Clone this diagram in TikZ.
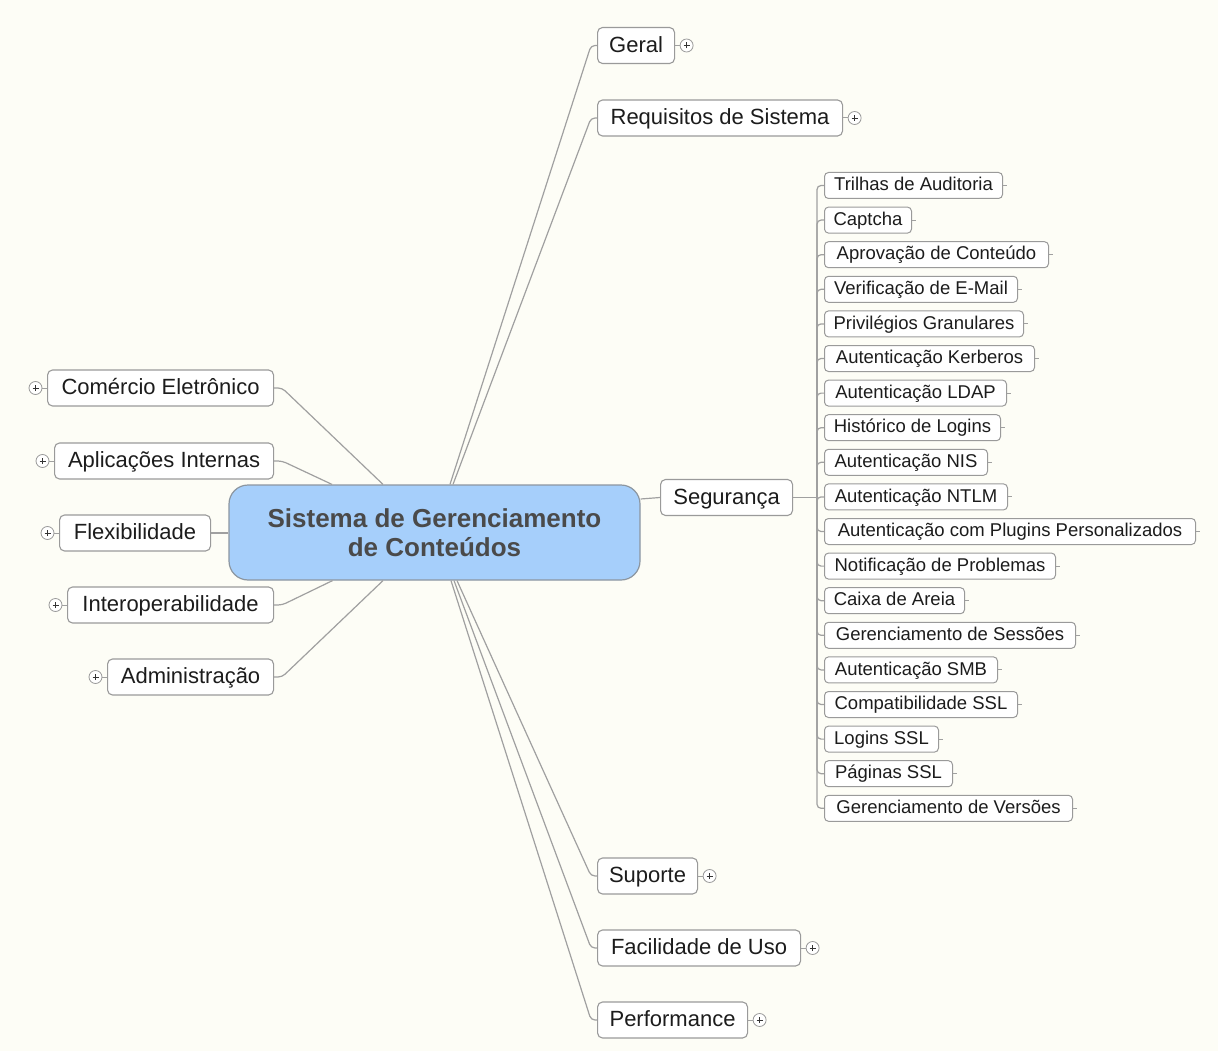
\documentclass[tikz,border=0pt]{standalone}
\usepackage{fontspec}
\setmainfont{Liberation Sans}
\usetikzlibrary{calc}
\definecolor{bg}{HTML}{FDFDF6}
\definecolor{ln}{HTML}{A0A0A0}
\definecolor{bd}{HTML}{9A9A9A}
\definecolor{cfill}{HTML}{A6CFFB}
\definecolor{cbd}{HTML}{8C96A0}
\definecolor{ctext}{HTML}{4A4A4A}
\definecolor{tx}{HTML}{1C1C1C}
\begin{document}
\begin{tikzpicture}[x=1pt,y=-1pt,
  topic/.style={draw=bd, line width=1.1pt, fill=white, rounded corners=5pt,
    minimum height=36pt, inner xsep=10pt, inner ysep=0pt, anchor=west,
    text height=15.8pt, text depth=2pt,
    font=\fontsize{22}{26}\selectfont, text=tx},
  sub/.style={draw=bd, line width=1pt, fill=white, rounded corners=4pt,
    minimum height=26pt, inner xsep=8pt, inner ysep=0pt, anchor=west,
    text height=13.2pt, text depth=3pt,
    font=\fontsize{18.5}{22}\selectfont, text=tx},
  central/.style={draw=cbd, line width=1.2pt, fill=cfill, rounded corners=19pt,
    minimum width=411pt, minimum height=95pt, align=center, text=ctext,
    font=\fontsize{26}{29}\selectfont\bfseries},
  conn/.style={draw=ln, line width=1.2pt, rounded corners=4pt},
  plus/.style={circle, draw=bd, line width=0.8pt, fill=white, minimum size=13pt,
    inner sep=0pt, path picture={
      \draw[line width=0.9pt, draw=black!80]
        ([xshift=-3pt]path picture bounding box.center) -- ([xshift=3pt]path picture bounding box.center)
        ([yshift=-3pt]path picture bounding box.center) -- ([yshift=3pt]path picture bounding box.center);}}
]
\fill[bg] (0,0) rectangle (1218,1051);
\useasboundingbox (0,0) rectangle (1218,1051);

% central topic
\node[central] (c) at (434.5,532.5) {Sistema de Gerenciamento\\de Conteúdos};

% right main topics
\node[topic, minimum width=77pt]  (geral) at (597,45.5) {Geral};
\node[topic, minimum width=245pt] (req)   at (597,118) {Requisitos de Sistema};
\node[topic, minimum width=132pt] (seg)   at (660,497.5) {Segurança};
\node[topic, minimum width=100pt] (sup)   at (597,876) {Suporte};
\node[topic, minimum width=203pt] (fac)   at (597,948) {Facilidade de Uso};
\node[topic, minimum width=150pt] (perf)  at (597,1020) {Performance};

% left main topics
\node[topic, minimum width=226pt] (com)   at (47,388) {Comércio Eletrônico};
\node[topic, minimum width=219pt] (apl)   at (54,461) {Aplicações Internas};
\node[topic, minimum width=151pt] (flex)  at (59,533) {Flexibilidade};
\node[topic, minimum width=206pt] (inter) at (67,605) {Interoperabilidade};
\node[topic, minimum width=166pt] (adm)   at (107,677) {Administração};

% plus markers (collapsed branches)
\foreach \n in {geral,req,sup,fac,perf}{
  \node[plus] (p\n) at ([xshift=11.5pt]\n.east) {};
  \draw[draw=ln, line width=1pt] (\n.east) -- (p\n.west);
}
\foreach \n in {com,apl,flex,inter,adm}{
  \node[plus] (p\n) at ([xshift=-11.5pt]\n.west) {};
  \draw[draw=ln, line width=1pt] (\n.west) -- (p\n.east);
}

% connectors right
\draw[conn] ([xshift=15.5pt]c.north) -- ([xshift=-6pt]geral.west) -- (geral.west);
\draw[conn] ([xshift=18.5pt]c.north) -- ([xshift=-6pt]req.west) -- (req.west);
\draw[conn] ([xshift=22.5pt]c.south) -- ([xshift=-6pt]sup.west) -- (sup.west);
\draw[conn] ([xshift=19.5pt]c.south) -- ([xshift=-6pt]fac.west) -- (fac.west);
\draw[conn] ([xshift=16.5pt]c.south) -- ([xshift=-6pt]perf.west) -- (perf.west);
\draw[conn] ([yshift=33.5pt]c.east) -- (seg.west);

% connectors left
\draw[conn] (com.east) -- ([xshift=8pt]com.east) -- ([xshift=-51.5pt]c.north);
\draw[conn] (apl.east) -- ([xshift=8pt]apl.east) -- ([xshift=-102.5pt]c.north);
\draw[conn] (flex.east) -- (c.west |- flex.east);
\draw[conn] (inter.east) -- ([xshift=8pt]inter.east) -- ([xshift=-102pt]c.south);
\draw[conn] (adm.east) -- ([xshift=8pt]adm.east) -- ([xshift=-51.5pt]c.south);

% security subtopics
\coordinate (tr) at (817,497.5);
\draw[conn] (seg.east) -- (tr);
\foreach \i/\t/\w in {
  1/Trilhas de Auditoria/178,
  2/Captcha/87,
  3/Aprovação de Conteúdo/224,
  4/Verificação de E-Mail/193,
  5/Privilégios Granulares/199,
  6/Autenticação Kerberos/210,
  7/Autenticação LDAP/182,
  8/Histórico de Logins/176,
  9/Autenticação NIS/163,
  10/Autenticação NTLM/183,
  11/Autenticação com Plugins Personalizados/371,
  12/Notificação de Problemas/231,
  13/Caixa de Areia/140,
  14/Gerenciamento de Sessões/251,
  15/Autenticação SMB/173,
  16/Compatibilidade SSL/193,
  17/Logins SSL/114,
  18/Páginas SSL/128,
  19/Gerenciamento de Versões/248}{
  \node[sub, minimum width=\w pt] (s\i) at (824,{185.5+(\i-1)*34.6}) {\t};
  \draw[conn] (tr) |- (s\i.west);
  \draw[draw=ln, line width=1pt] (s\i.east) -- ++(4,0);
}
\end{tikzpicture}
\end{document}
